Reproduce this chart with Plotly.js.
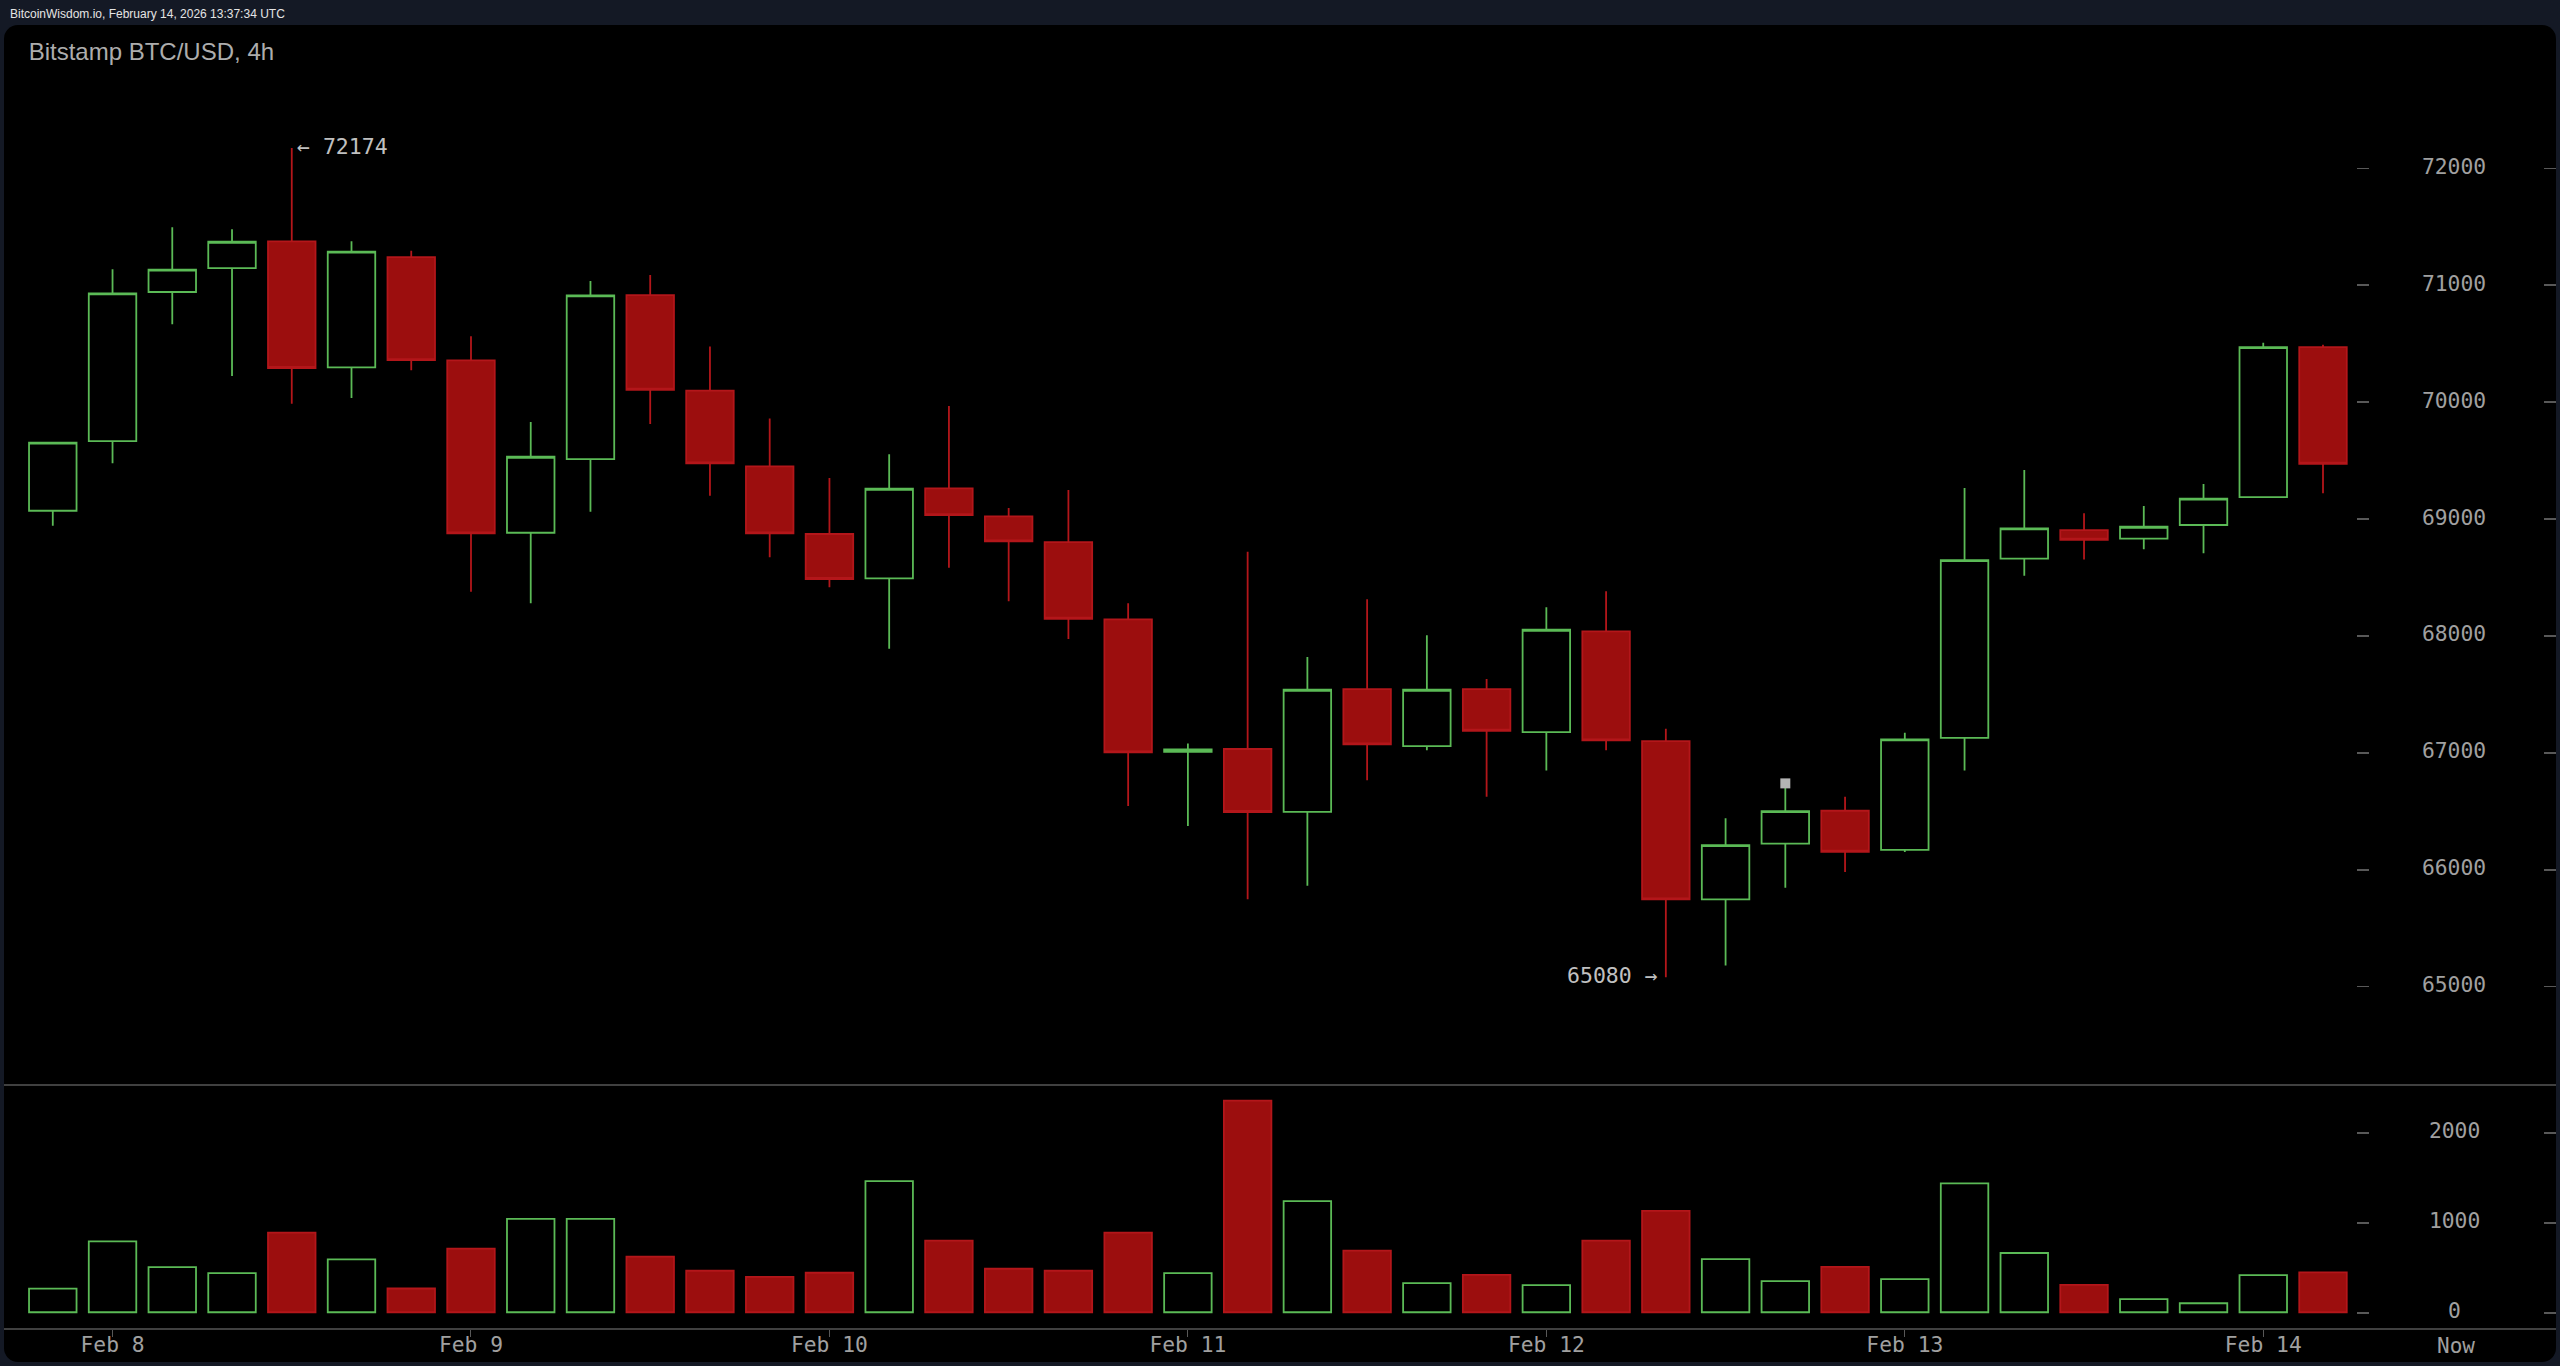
<!DOCTYPE html>
<html>
<head>
<meta charset="utf-8">
<script src="https://cdn.plot.ly/plotly-3.0.1.min.js"></script>
<style>
html,body{margin:0;padding:0;width:2560px;height:1366px;overflow:hidden;background:#141925;}
#panel{position:absolute;left:4px;top:25px;width:2552px;height:1337px;background:#000;border-radius:14px;}
#chart{position:absolute;left:0;top:0;width:2560px;height:1366px;}
</style>
</head>
<body>
<div id="panel"></div>
<div id="chart"></div>
<script>
var times = ["2026-02-07 20:00","2026-02-08 00:00","2026-02-08 04:00","2026-02-08 08:00","2026-02-08 12:00","2026-02-08 16:00","2026-02-08 20:00",
"2026-02-09 00:00","2026-02-09 04:00","2026-02-09 08:00","2026-02-09 12:00","2026-02-09 16:00","2026-02-09 20:00",
"2026-02-10 00:00","2026-02-10 04:00","2026-02-10 08:00","2026-02-10 12:00","2026-02-10 16:00","2026-02-10 20:00",
"2026-02-11 00:00","2026-02-11 04:00","2026-02-11 08:00","2026-02-11 12:00","2026-02-11 16:00","2026-02-11 20:00",
"2026-02-12 00:00","2026-02-12 04:00","2026-02-12 08:00","2026-02-12 12:00","2026-02-12 16:00","2026-02-12 20:00",
"2026-02-13 00:00","2026-02-13 04:00","2026-02-13 08:00","2026-02-13 12:00","2026-02-13 16:00","2026-02-13 20:00",
"2026-02-14 00:00","2026-02-14 04:00"];
var opens = [69071,69667,70942,71147,71376,70298,71241,70358,68883,69513,70916,70098,69451,68872,68493,69263,69023,68803,68142,67008,67033,66496,67546,67058,67546,67178,68040,67101,65747,66223,66505,66171,67129,68661,68906,68832,68949,69188,70471];
var closes = [69653,70931,71133,71372,70292,71287,70360,68878,69533,70914,70106,69477,68878,68487,69259,69034,68809,68147,67004,67030,66494,67540,67073,67540,67189,68053,67107,65747,66211,66502,66154,67116,68649,68921,68823,68934,69174,70471,69473];
var highs = [69653,71136,71495,71478,72174,71376,71295,70563,69830,71036,71087,70477,69861,69351,69554,69967,69094,69248,68279,67081,68720,67820,68313,68005,67631,68245,68382,67206,66440,66739,66625,67172,69265,69419,69049,69111,69300,70508,70491];
var lows = [68943,69477,70666,70223,69986,70035,70272,68378,68279,69063,69813,69200,68673,68416,67891,68584,68296,67974,66545,66374,65747,65863,66765,67022,66625,66850,67022,65080,65182,65846,65980,66152,66850,68515,68655,68741,68707,69188,69220];
var volumes = [262,788,502,435,884,588,264,706,1037,1037,617,461,394,439,1457,795,483,461,885,435,2349,1234,684,323,416,301,795,1126,591,346,505,368,1431,658,305,145,100,413,443];
var priceTicks = [72000,71000,70000,69000,68000,67000,66000,65000];
var volumeTicks = [2000,1000];
var volumeZero = [0];
var dayTicks = ["2026-02-08","2026-02-09","2026-02-10","2026-02-11","2026-02-12","2026-02-13","2026-02-14"];
var dayLabels = ["Feb 8","Feb 9","Feb 10","Feb 11","Feb 12","Feb 13","Feb 14"];
var markerTime = ["2026-02-12 16:00"];
var markerValue = [66739];

var GREEN = "#5bba56", RED = "#b3161a", REDFILL = "#9c0e0e";
var MONO = "'DejaVu Sans Mono', monospace";
var TICK = "#585858", LABEL = "#a0a0a0";

function tickCarrier(yId){
  return {type:"scatter", mode:"none", x:times, y:closes.map(function(){return null;}), xaxis:yId==="y3"?"x":"x2", yaxis:yId, hoverinfo:"skip", showlegend:false};
}

var traces = [
  {type:"candlestick", x:times, open:opens, high:highs, low:lows, close:closes, xaxis:"x", yaxis:"y",
   increasing:{line:{color:GREEN,width:1.8}, fillcolor:"rgba(0,0,0,0)"},
   decreasing:{line:{color:RED,width:1.8}, fillcolor:REDFILL},
   hoverinfo:"skip", showlegend:false},
  {type:"scatter", mode:"markers", x:markerTime, y:markerValue, xaxis:"x", yaxis:"y",
   marker:{symbol:"square", size:10, color:"#b4b4b4"}, hoverinfo:"skip", showlegend:false},
  {type:"bar", x:times, y:volumes, base:8, xaxis:"x2", yaxis:"y2",
   marker:{color:closes.map(function(c,i){return c>=opens[i]?"rgba(0,0,0,0)":REDFILL;}),
           line:{color:closes.map(function(c,i){return c>=opens[i]?GREEN:RED;}),width:1.8}},
   hoverinfo:"skip", showlegend:false},
  tickCarrier("y3"), tickCarrier("y4"), tickCarrier("y5")
];

var xRange = ["2026-02-07 16:44","2026-02-14 19:36"];
var tickFont = {family:MONO,size:21.3,color:LABEL};

var layout = {
  width:2560, height:1366,
  margin:{l:4,r:4,t:0,b:0,pad:0},
  paper_bgcolor:"rgba(0,0,0,0)", plot_bgcolor:"rgba(0,0,0,0)",
  showlegend:false, hovermode:false, dragmode:false,
  boxgap:0.205, boxgroupgap:0, bargap:0.205,
  title:{text:"Bitstamp BTC/USD, 4h", xref:"container", yref:"container", x:0.0112, xanchor:"left", y:0.962, yanchor:"middle",
         font:{family:"'Liberation Sans', Arial, sans-serif",size:24,color:"#adadad"}, pad:{l:0,r:0,t:0,b:0}},
  xaxis:{type:"date", domain:[0,1], range:xRange, anchor:"y", showgrid:false, zeroline:false, rangeslider:{visible:false},
         showline:true, linecolor:"#404040", linewidth:1.5, ticks:"", showticklabels:false},
  xaxis2:{type:"date", domain:[0,1], range:xRange, anchor:"y2", showgrid:false, zeroline:false,
          showline:true, linecolor:"#404040", linewidth:1.5, ticks:"outside", ticklen:7, tickwidth:1, tickcolor:TICK,
          tickmode:"array", tickvals:dayTicks, ticktext:dayLabels, tickfont:tickFont, ticklabelstandoff:-10},
  yaxis:{domain:[0.2064,0.9817], range:[64167,73226], side:"right", anchor:"free", position:0.9267,
         showgrid:false, zeroline:false, showline:false, ticks:"inside", ticklen:12, tickwidth:1.5, tickcolor:TICK,
         tickmode:"array", tickvals:priceTicks, ticktext:priceTicks.map(String), tickfont:tickFont, ticklabelstandoff:52, ticklabelshift:-2},
  yaxis3:{domain:[0.2064,0.9817], range:[64167,73226], side:"right", anchor:"free", position:1, overlaying:"y",
         showgrid:false, zeroline:false, showline:false, ticks:"inside", ticklen:12, tickwidth:1.5, tickcolor:TICK,
         tickmode:"array", tickvals:priceTicks, showticklabels:false},
  yaxis2:{domain:[0.0278,0.2064], range:[-167,2542], side:"right", anchor:"free", position:0.9267,
         showgrid:false, zeroline:false, showline:false, ticks:"inside", ticklen:12, tickwidth:1.5, tickcolor:TICK,
         tickmode:"array", tickvals:volumeTicks, ticktext:volumeTicks.map(String), tickfont:tickFont, ticklabelstandoff:59, ticklabelshift:-2},
  yaxis4:{domain:[0.0278,0.2064], range:[-167,2542], side:"right", anchor:"free", position:0.9267, overlaying:"y2",
         showgrid:false, zeroline:false, showline:false, ticks:"inside", ticklen:12, tickwidth:1.5, tickcolor:TICK,
         tickmode:"array", tickvals:volumeZero, ticktext:volumeZero.map(String), tickfont:tickFont, ticklabelstandoff:78, ticklabelshift:-2},
  yaxis5:{domain:[0.0278,0.2064], range:[-167,2542], side:"right", anchor:"free", position:1, overlaying:"y2",
         showgrid:false, zeroline:false, showline:false, ticks:"inside", ticklen:12, tickwidth:1.5, tickcolor:TICK,
         tickmode:"array", tickvals:volumeTicks.concat(volumeZero), showticklabels:false},
  annotations:[
    {text:"BitcoinWisdom.io, February 14, 2026 13:37:34 UTC", xref:"paper", yref:"paper", x:0.0016, y:0.98975, xanchor:"left", yanchor:"middle", showarrow:false,
     font:{family:"'Liberation Sans', Arial, sans-serif",size:12,color:"#e4e4e4"}},
    {text:"← 72174", xref:"x", yref:"y", x:times[4], y:highs[4], xanchor:"left", yanchor:"middle", xshift:3, yshift:1, showarrow:false,
     font:{family:MONO,size:21.5,color:"#c0c0c0"}},
    {text:"65080 →", xref:"x", yref:"y", x:times[27], y:lows[27], xanchor:"right", yanchor:"middle", xshift:-6, yshift:2, showarrow:false,
     font:{family:MONO,size:21.5,color:"#c0c0c0"}},
    {text:"Now", xref:"paper", yref:"paper", x:0.9610, y:0.0146, xanchor:"center", yanchor:"middle", showarrow:false,
     font:{family:MONO,size:21,color:LABEL}}
  ]
};
Plotly.newPlot("chart", traces, layout, {displayModeBar:false, staticPlot:true});
</script>
</body>
</html>
